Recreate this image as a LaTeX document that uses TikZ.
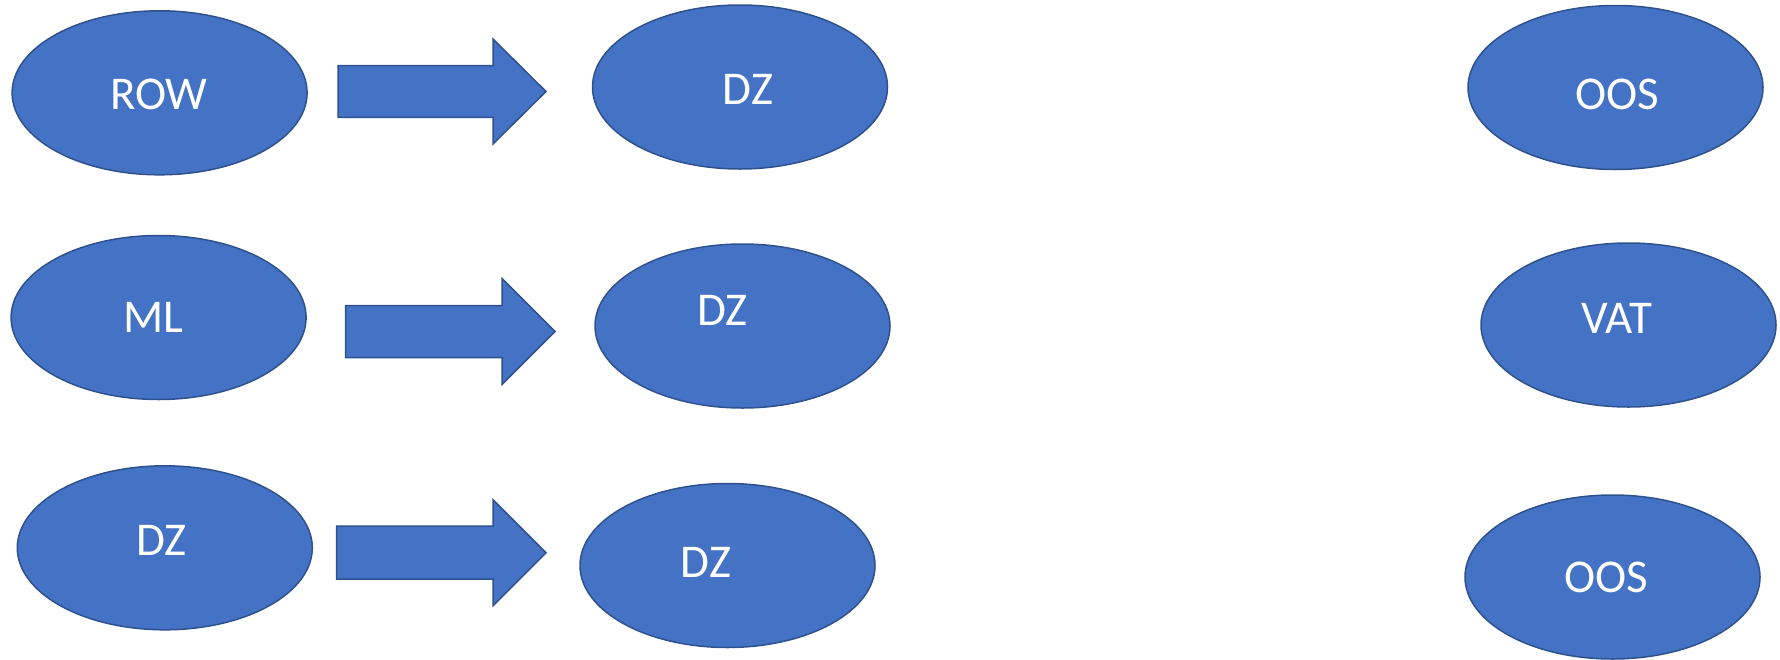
\documentclass[tikz,border=0pt]{standalone}
\usepackage{fontspec}
\setmainfont{Carlito}
\usetikzlibrary{shapes.geometric}

\definecolor{shapefill}{HTML}{4472C4}
\definecolor{shapeline}{HTML}{2F528F}

\tikzset{
  oval/.style={ellipse, fill=shapefill, draw=shapeline, line width=1.5pt,
    inner sep=0pt, minimum width=295pt, minimum height=164pt},
  oval label/.style={anchor=base, text=white, inner sep=0pt,
    font=\fontsize{47}{52}\selectfont},
  block arrow/.style={fill=shapefill, draw=shapeline, line width=1.5pt,
    line join=miter}
}

% block arrow: body from x #1 to #2, tip at x #3, axis at y #4,
% body half-height #5, head half-height #6
\newcommand\blockarrow[6]{%
  \draw[block arrow] (#1,#4-#5) -- (#2,#4-#5) -- (#2,#4-#6) -- (#3,#4)
    -- (#2,#4+#6) -- (#2,#4+#5) -- (#1,#4+#5) -- cycle;}

\begin{document}
\begin{tikzpicture}[x=1pt, y=-1pt]
\useasboundingbox (0,0) rectangle (1780,659);

% left column
\node[oval] (row)  at (159.6, 92.8) {};
\node[oval] (ml)   at (158.6, 317.5) {};
\node[oval] (dzl)  at (164.8, 547.8) {};
% middle column
\node[oval] (dza)  at (740, 87) {};
\node[oval] (dzb)  at (742.5, 326) {};
\node[oval] (dzc)  at (727.5, 565.5) {};
% right column
\node[oval] (oosa) at (1615.5, 87.5) {};
\node[oval] (vat)  at (1628.5, 325) {};
\node[oval] (oosb) at (1612.5, 577) {};

% labels (base line = cap centre + half cap height)
\node[oval label] (trow)  at (159, 109.5) {ROW};
\node[oval label] (tml)   at (153, 332.5) {ML};
\node[oval label] (tdzl)  at (161.5, 555.5) {DZ};
\node[oval label] (tdza)  at (748, 104) {DZ};
\node[oval label] (tdzb)  at (722.5, 325.5) {DZ};
\node[oval label] (tdzc)  at (706, 577.5) {DZ};
\node[oval label] (toosa) at (1617, 109.5) {OOS};
\node[oval label] (tvat)  at (1616.5, 333) {VAT};
\node[oval label] (toosb) at (1606.5, 592.5) {OOS};

% block arrows between the columns
\blockarrow{338}{493}{546}{91.5}{25.8}{52.5}
\blockarrow{345.5}{502}{555}{331.5}{26}{53}
\blockarrow{336.5}{493}{546}{552.7}{26.5}{53}
\end{tikzpicture}
\end{document}
